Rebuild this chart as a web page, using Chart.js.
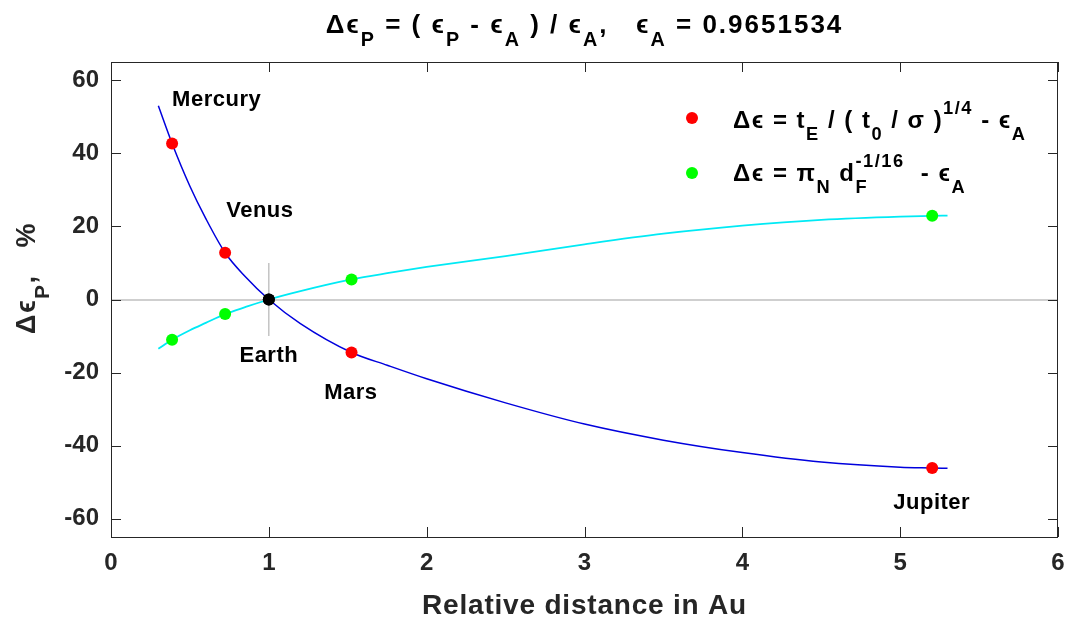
<!DOCTYPE html>
<html>
<head>
<meta charset="utf-8">
<script src="https://cdn.jsdelivr.net/npm/chart.js@4/dist/chart.umd.min.js"></script>
<style>
    html, body { margin: 0; padding: 0; background: #fff; }
    #wrap { width: 1069px; height: 621px; }
</style>
</head>
<body>
<div id="wrap"><canvas id="chart-1" width="1069" height="621"></canvas></div>
<script>
// planets and their deviations (%)
var planets = ['Mercury', 'Venus', 'Earth', 'Mars', 'Jupiter'];
var planetDist = [0.387, 0.723, 1.0, 1.524, 5.203];
var deltaRed = [42.7, 12.8, 0, -14.5, -46.1];
var deltaGreen = [-11.0, -4.0, 0, 5.5, 22.9];

// fitted curves
var curveX = [0.3, 0.387, 0.5, 0.6, 0.723, 0.85, 1.0, 1.2, 1.524, 1.75, 2.0, 2.5, 3.0, 3.5, 4.0, 4.5, 5.0, 5.203, 5.3];
var fitRed = [53, 42.7, 31.0, 22.2, 12.8, 6.3, 0, -6.6, -14.5, -18.0, -21.7, -28.3, -34.1, -38.5, -41.9, -44.5, -45.9, -46.1, -46.2];
var fitGreen = [-13.5, -11.0, -8.4, -6.4, -4.0, -2.1, 0, 2.3, 5.5, 7.2, 8.9, 11.9, 15.1, 18.0, 20.2, 21.8, 22.7, 22.9, 22.95];

var xTicks = [0, 1, 2, 3, 4, 5, 6];
var yTicks = [-60, -40, -20, 0, 20, 40, 60];

// planet name labels, anchored in data units
var labelX = [0.387, 0.73, 1.0, 1.52, 5.2];
var labelY = [54.5, 24.3, -15.5, -25.6, -55.6];
var labelAlign = ['left', 'left', 'center', 'center', 'center'];

var FONT = '"Liberation Sans", Arial, sans-serif';

function drawRich(ctx, segs, x, y, size, align, spacing) {
    var total = 0, parts = [];
    ctx.letterSpacing = (spacing || 0) + 'px';
    segs.forEach(function (s) {
        var sz = s[1] ? size * 0.76 : size;
        ctx.font = 'bold ' + sz + 'px ' + FONT;
        var w = ctx.measureText(s[0]).width;
        var adv = s[1] === 'substay' ? 0 : w;
        total += adv;
        parts.push({ t: s[0], m: s[1], s: sz, w: adv });
    });
    var cx = align === 'center' ? x - total / 2 : (align === 'right' ? x - total : x);
    ctx.textAlign = 'left';
    ctx.textBaseline = 'alphabetic';
    parts.forEach(function (p) {
        ctx.font = 'bold ' + p.s + 'px ' + FONT;
        var dy = 0;
        if (p.m === 'sub' || p.m === 'substay') dy = size * 0.5;
        if (p.m === 'sup') dy = -size * 0.6;
        ctx.fillText(p.t, cx, y + dy);
        cx += p.w;
    });
    ctx.letterSpacing = '0px';
}

var annotate = {
    id: 'annotate',
    afterDraw: function (chart) {
        var ctx = chart.ctx, a = chart.chartArea;
        var xs = chart.scales.x, ys = chart.scales.y;
        ctx.save();

        // axes box with inward ticks
        ctx.strokeStyle = '#262626';
        ctx.lineWidth = 1;
        ctx.strokeRect(a.left + 0.5, a.top + 0.5, a.right - a.left - 1, a.bottom - a.top);
        ctx.beginPath();
        xTicks.forEach(function (v) {
            var px = Math.round(xs.getPixelForValue(v)) + 0.5;
            ctx.moveTo(px, a.bottom); ctx.lineTo(px, a.bottom - 10);
            ctx.moveTo(px, a.top); ctx.lineTo(px, a.top + 10);
        });
        yTicks.forEach(function (v) {
            var py = Math.round(ys.getPixelForValue(v)) + 0.5;
            ctx.moveTo(a.left, py); ctx.lineTo(a.left + 10, py);
            ctx.moveTo(a.right, py); ctx.lineTo(a.right - 10, py);
        });
        ctx.stroke();

        ctx.fillStyle = '#000';
        // planet names
        ctx.letterSpacing = '0.5px';
        planets.forEach(function (name, i) {
            ctx.font = 'bold 22px ' + FONT;
            ctx.textAlign = labelAlign[i];
            ctx.textBaseline = 'middle';
            ctx.fillText(name, xs.getPixelForValue(labelX[i]), ys.getPixelForValue(labelY[i]));
        });
        ctx.letterSpacing = '0px';

        // title
        drawRich(ctx, [['Δϵ', ''], ['P', 'sub'], [' = ( ϵ', ''], ['P', 'sub'], [' - ϵ', ''], ['A', 'sub'],
            [' ) / ϵ', ''], ['A', 'sub'], [',   ϵ', ''], ['A', 'sub'], [' = 0.9651534', '']],
            (a.left + a.right) / 2, 33, 26, 'center', 2);

        // legend
        ctx.fillStyle = '#ff0000';
        ctx.beginPath(); ctx.arc(692, 118, 6, 0, Math.PI * 2); ctx.fill();
        ctx.fillStyle = '#00ff00';
        ctx.beginPath(); ctx.arc(692, 173, 6, 0, Math.PI * 2); ctx.fill();
        ctx.fillStyle = '#000';
        drawRich(ctx, [['Δϵ = t', ''], ['E', 'sub'], [' / ( t', ''], ['0', 'sub'], [' / σ )', ''], ['1/4', 'sup'],
            [' - ϵ', ''], ['A', 'sub']], 733, 128, 24, 'left', 1.5);
        drawRich(ctx, [['Δϵ = π', ''], ['N', 'sub'], [' d', ''], ['F', 'substay'], ['-1/16', 'sup'],
            ['  - ϵ', ''], ['A', 'sub']], 733, 181, 24, 'left', 1.5);

        // axis titles
        ctx.font = 'bold 28px ' + FONT;
        ctx.letterSpacing = '0.8px';
        ctx.textAlign = 'center';
        ctx.textBaseline = 'alphabetic';
        ctx.fillStyle = '#262626';
        ctx.fillText('Relative distance in Au', (a.left + a.right) / 2, 614);
        ctx.translate(35, 278);
        ctx.rotate(-Math.PI / 2);
        drawRich(ctx, [['Δϵ', ''], ['P', 'sub'], [',   %', '']], 0, 0, 27, 'center', 1.5);
        ctx.restore();
    }
};

var earth = planets.indexOf('Earth');
var markerColor = planets.map(function (p) { return p === 'Earth' ? '#000000' : null; });

function pts(xv, yv) {
    return xv.map(function (x, i) { return { x: x, y: yv[i] }; });
}

new Chart('chart-1', {
    type: 'scatter',
    data: {
        datasets: [{
            data: pts(planetDist, deltaRed),
            pointRadius: 6,
            pointBorderWidth: 0,
            pointBackgroundColor: markerColor.map(function (c) { return c || '#ff0000'; }),
            order: 1
        }, {
            data: pts(planetDist, deltaGreen),
            pointRadius: 6,
            pointBorderWidth: 0,
            pointBackgroundColor: markerColor.map(function (c) { return c || '#00ff00'; }),
            order: 0
        }, {
            data: pts(curveX, fitRed),
            showLine: true,
            pointRadius: 0,
            borderColor: '#0000dd',
            borderWidth: 1.5,
            cubicInterpolationMode: 'monotone',
            order: 3
        }, {
            data: pts(curveX, fitGreen),
            showLine: true,
            pointRadius: 0,
            borderColor: '#00eaf5',
            borderWidth: 1.8,
            cubicInterpolationMode: 'monotone',
            order: 2
        }, {
            // small vertical cross line through Earth
            data: [{ x: planetDist[earth], y: deltaRed[earth] - 10 }, { x: planetDist[earth], y: deltaRed[earth] + 10 }],
            showLine: true,
            pointRadius: 0,
            borderColor: '#b4b4b4',
            borderWidth: 1.2,
            order: 4
        }]
    },
    options: {
        responsive: false,
        animation: false,
        events: [],
        layout: { padding: { top: 62, right: 11, left: 0, bottom: 0 } },
        plugins: { legend: { display: false }, tooltip: { enabled: false }, title: { display: false } },
        scales: {
            x: {
                type: 'linear', min: 0, max: 6,
                afterBuildTicks: function (s) { s.ticks = xTicks.map(function (v) { return { value: v }; }); },
                afterFit: function (s) { s.height = 84; s.paddingLeft = 0; s.paddingRight = 0; },
                grid: { display: false, drawTicks: false },
                border: { display: false },
                ticks: { padding: 12, color: '#262626', font: { family: FONT, size: 24, weight: 'bold' } }
            },
            y: {
                type: 'linear', min: -65, max: 65,
                afterBuildTicks: function (s) { s.ticks = yTicks.map(function (v) { return { value: v }; }); },
                afterFit: function (s) { s.width = 111; s.paddingTop = 0; s.paddingBottom = 0; },
                grid: {
                    drawTicks: false,
                    lineWidth: 2,
                    color: function (c) { return c.tick && c.tick.value === 0 ? '#cfcfcf' : 'rgba(0,0,0,0)'; }
                },
                border: { display: false },
                ticks: { padding: 12, color: '#262626', font: { family: FONT, size: 24, weight: 'bold' } }
            }
        }
    },
    plugins: [annotate]
});
</script>
</body>
</html>
